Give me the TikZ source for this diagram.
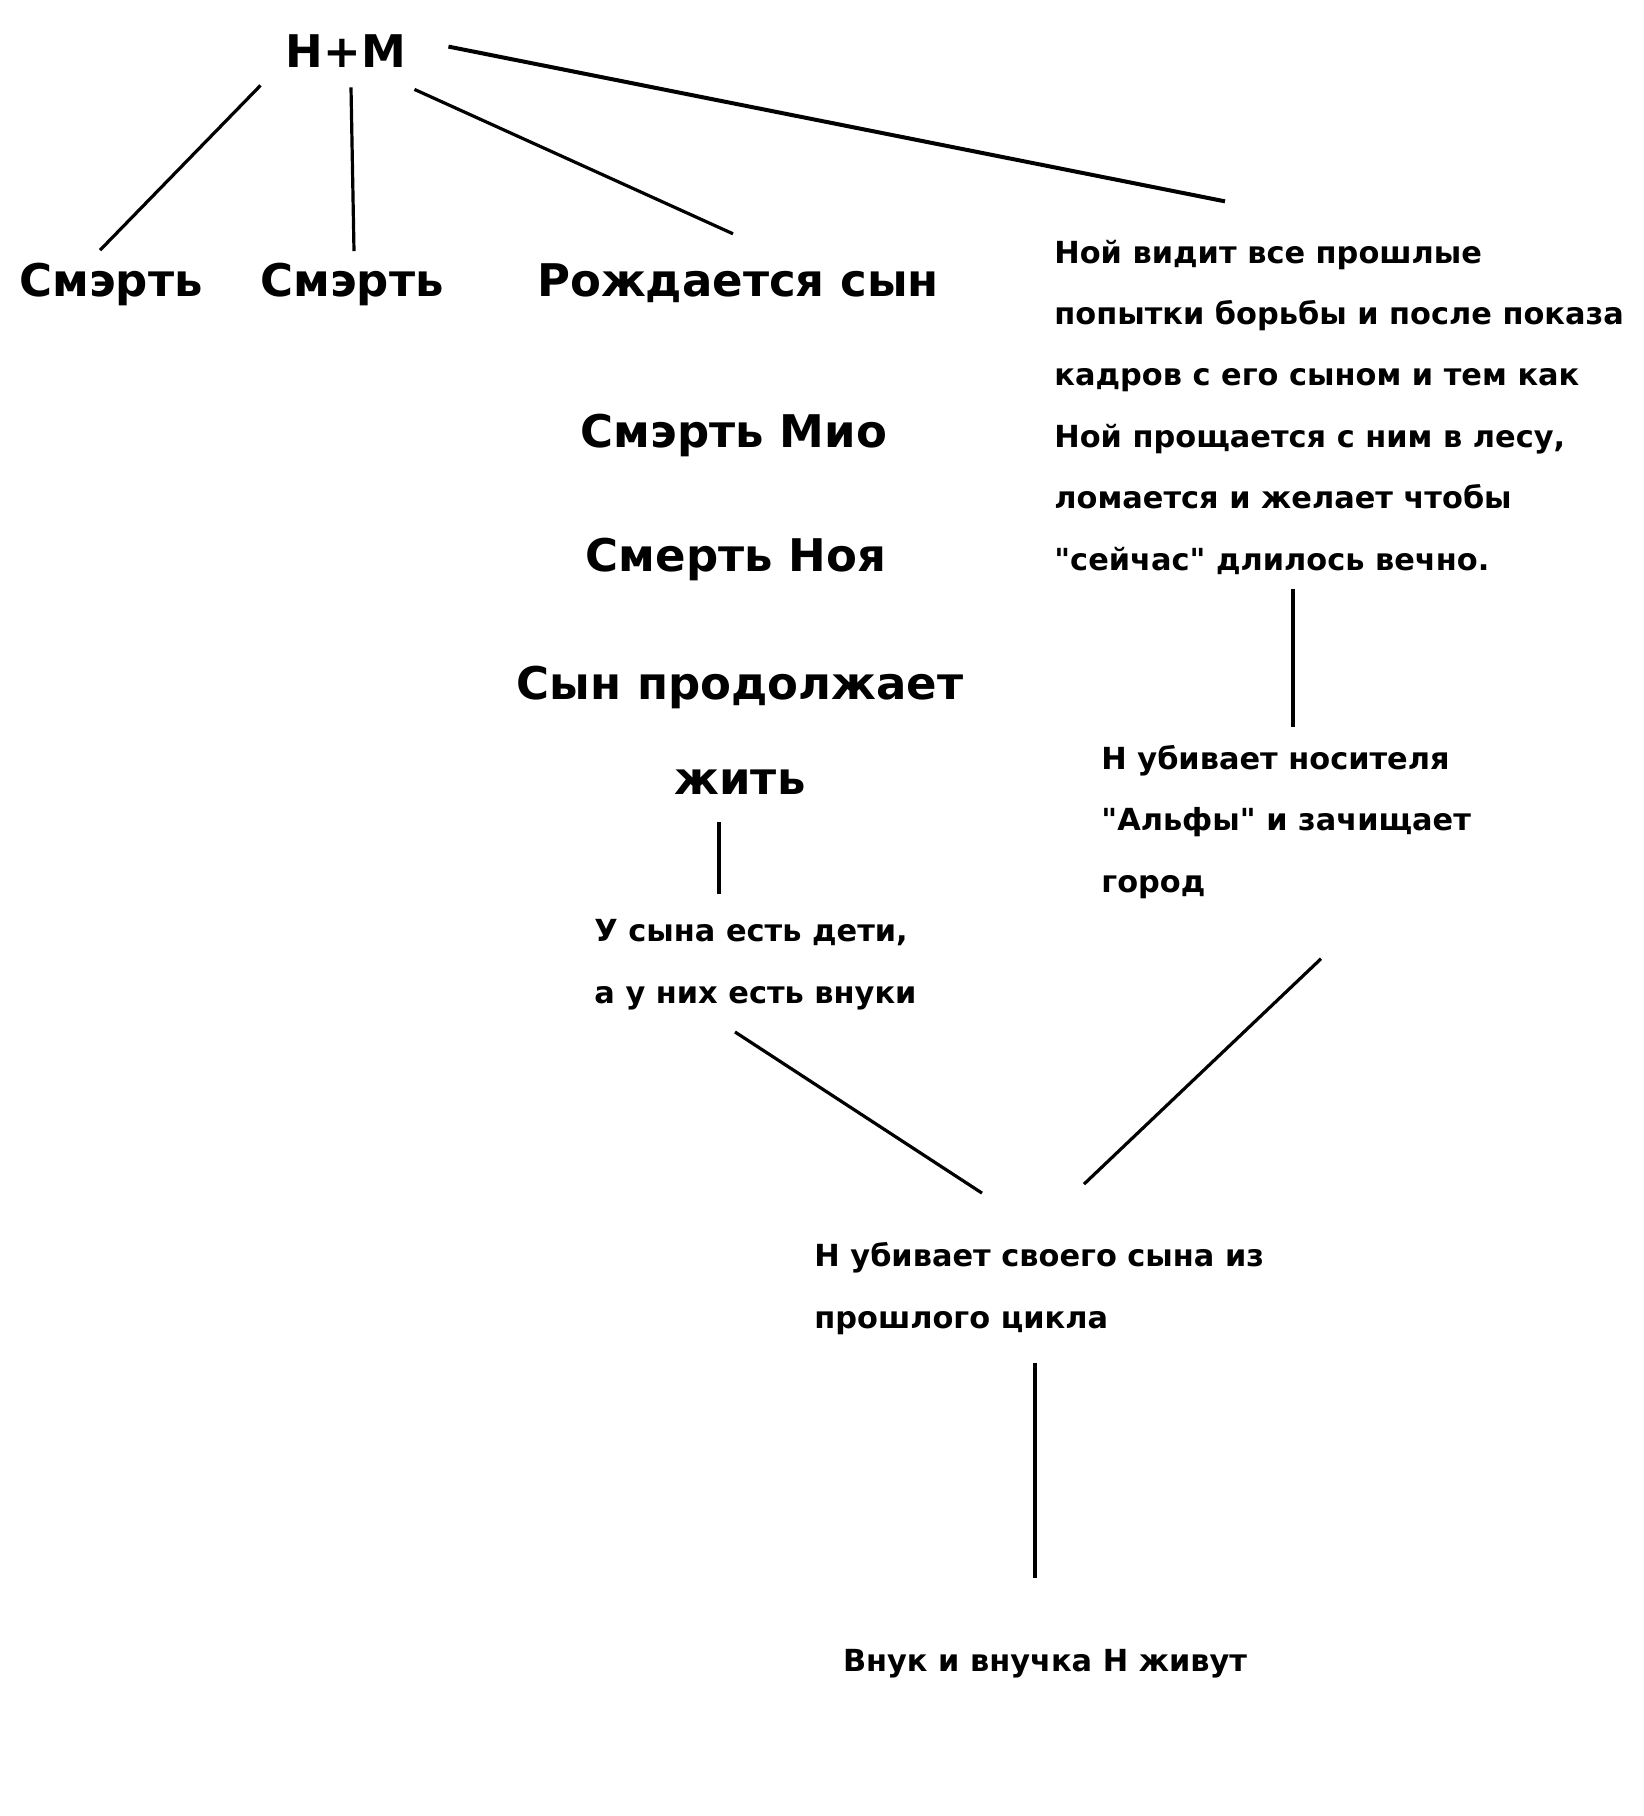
\documentclass[tikz,border=0pt]{standalone}
\usepackage{fontspec}
\setmainfont{DejaVu Sans}[Ligatures=TeXOff]
\begin{document}
\begin{tikzpicture}
[x={(0.5pt,0)},y={(0,-0.5pt)},
  lineDecorate/.style={-,line width=1.6pt},%
  bigDecorate/.style={inner sep=0pt,anchor=base,font=\fontsize{22.5}{27}\selectfont\bfseries},%
  smallDecorate/.style={inner sep=0pt,align=left,anchor=base west,font=\fontsize{15.2}{30.7}\selectfont\bfseries}]
\path[use as bounding box,fill=white] (0,0) rectangle (1644,1816);
%% top row
\node (hm) at (346,67) [bigDecorate] {Н+М};
\foreach \nodename/\x/\txt in {smA/111/Смэрть, smB/352/Смэрть, son/738/Рождается сын}
{
  \node (\nodename) at (\x,296) [bigDecorate] {\txt};
}
%% middle column (multi-line nodes sit on their last line)
\node (mio) at (734,447) [bigDecorate] {Смэрть Мио};
\node (noa) at (736,571) [bigDecorate] {Смерть Ноя};
\node (cont) at (740,794) [bigDecorate,align=center,font=\fontsize{22.5}{47.5}\selectfont\bfseries] {Сын продолжает\\жить};
\node (kids) at (594,1003) [smallDecorate] {У сына есть дети,\\а у них есть внуки};
%% right column
\node (vision) at (1054,570) [smallDecorate] {Ной видит все прошлые\\попытки борьбы и после показа\\кадров с его сыном и тем как\\Ной прощается с ним в лесу,\\ломается и желает чтобы\\"сейчас" длилось вечно.};
\node (alpha) at (1101,892) [smallDecorate] {Н убивает носителя\\"Альфы" и зачищает\\город};
%% bottom
\node (kill) at (814,1328) [smallDecorate] {Н убивает своего сына из\\прошлого цикла};
\node (grand) at (1045,1671) [smallDecorate,anchor=base] {Внук и внучка Н живут};
%% edges or lines
\draw[lineDecorate] ([shift={(-25,18)}]hm.south west) -- ([shift={(-11,-12)}]smA.north);
\draw[lineDecorate] ([shift={(5,20)}]hm.south) -- ([shift={(2,-11)}]smB.north);
\draw[lineDecorate] ([shift={(8,22)}]hm.south east) -- ([shift={(-5,-29)}]son.north);
\draw[lineDecorate,line width=2pt] ([shift={(42,-4)}]hm.east) -- ([shift={(171,-38)}]vision.north west);
\draw[lineDecorate] ([shift={(239,14)}]vision.south west) -- ([shift={(192,-18)}]alpha.north west);
\draw[lineDecorate] ([shift={(220,60)}]alpha.south west) -- ([shift={(270,-58)}]kill.north west);
\draw[lineDecorate] ([shift={(-21,28)}]cont.south) -- ([shift={(125,-25)}]kids.north west);
\draw[lineDecorate] ([shift={(141,22)}]kids.south west) -- ([shift={(168,-49)}]kill.north west);
\draw[lineDecorate] ([shift={(221,28)}]kill.south west) -- ([shift={(-10,-70)}]grand.north);
\end{tikzpicture}
\end{document}
